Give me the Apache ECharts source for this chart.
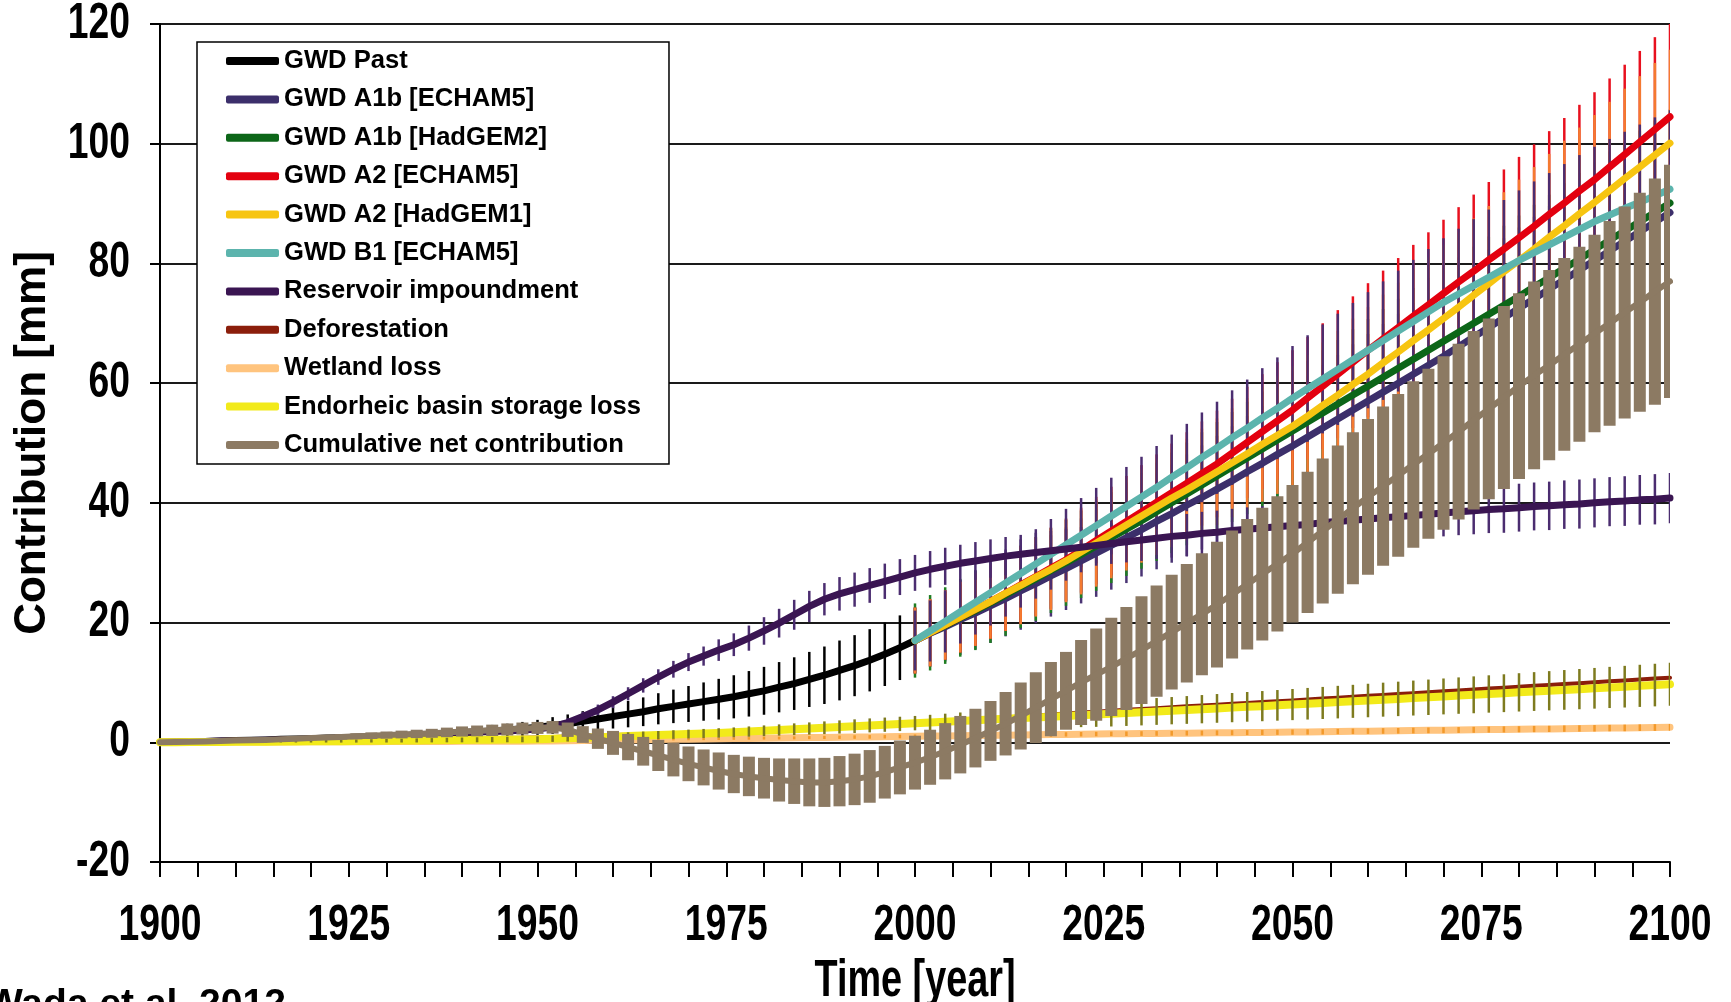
<!DOCTYPE html>
<html><head><meta charset="utf-8">
<script src="https://cdn.jsdelivr.net/npm/echarts@6/dist/echarts.min.js"></script>
<style>html,body{margin:0;padding:0;background:#fff;}#c{width:1731px;height:1002px;}</style>
</head><body><div id="c"></div>
<script>
// ---------- categories (years, 2-year steps) and tick labels ----------
const yearsAll = []; for (let y = 1900; y <= 2100; y += 2) yearsAll.push(y);
const yearsPast = yearsAll.filter(y => y <= 2000);
const yearsFuture = yearsAll.filter(y => y >= 2000);
const xTickLabels = [1900, 1925, 1950, 1975, 2000, 2025, 2050, 2075, 2100];
const yTickLabels = [-20, 0, 20, 40, 60, 80, 100, 120];

// ---------- series values (mm) ----------
const gwdPast = [0,0.05,0.1,0.15,0.2,0.3,0.35,0.4,0.5,0.55,0.6,0.7,0.75,0.85,0.9,1.0,1.1,1.2,1.3,1.45,1.6,1.75,1.9,2.05,2.25,2.5,2.8,3.1,3.5,3.9,4.3,4.7,5.1,5.6,6.0,6.4,6.8,7.2,7.6,8.1,8.6,9.2,9.8,10.5,11.2,12.0,12.8,13.7,14.7,15.8,17.0];
const gwdPastErr = [0,0.05,0.1,0.1,0.15,0.15,0.2,0.2,0.25,0.3,0.3,0.35,0.4,0.45,0.5,0.55,0.6,0.65,0.7,0.8,0.85,0.9,1.0,1.05,1.15,1.25,1.4,1.55,1.7,1.85,2.0,2.2,2.4,2.6,2.8,3.0,3.2,3.4,3.6,3.8,4.0,4.2,4.4,4.6,4.8,5.0,5.1,5.2,5.3,5.4,5.5];

const a1bEcham5 = [17.0,18.2,19.3,20.5,21.6,22.8,24.0,25.3,26.5,27.8,29.0,30.3,31.6,32.9,34.2,35.5,36.9,38.2,39.6,40.9,42.3,43.7,45.2,46.6,48.1,49.5,51.0,52.5,54.0,55.5,57.0,58.5,60.0,61.5,63.0,64.5,66.1,67.7,69.3,70.9,72.5,74.1,75.7,77.3,78.9,80.5,82.1,83.7,85.3,86.9,88.5];
const a1bEcham5Err = [5.5,5.6,5.8,5.9,6.1,6.2,6.3,6.5,6.6,6.8,6.9,7.1,7.3,7.4,7.6,7.8,8.0,8.2,8.5,8.7,8.9,9.1,9.3,9.6,9.8,10.0,10.2,10.5,10.7,11.0,11.2,11.4,11.6,11.9,12.1,12.3,12.5,12.8,13.0,13.3,13.5,13.7,13.9,14.2,14.4,14.6,14.8,15.0,15.2,15.4,15.6];

const a1bHadgem2 = [17.0,18.3,19.5,20.8,22.0,23.3,24.6,26.0,27.3,28.7,30.0,31.4,32.8,34.2,35.6,37.0,38.5,40.0,41.5,43.0,44.5,46.0,47.5,49.0,50.5,52.0,53.5,55.0,56.5,58.0,59.5,61.0,62.5,64.0,65.5,67.0,68.5,70.0,71.5,73.0,74.5,76.1,77.6,79.2,80.7,82.3,83.9,85.4,87.0,88.5,90.1];
const a1bHadgem2Err = [6.2,6.3,6.4,6.5,6.6,6.7,6.8,6.9,7.0,7.1,7.2,7.3,7.5,7.6,7.8,8.0,8.2,8.4,8.6,8.8,9.0,9.2,9.4,9.6,9.8,10.0,10.2,10.5,10.7,11.0,11.2,11.4,11.6,11.9,12.1,12.3,12.5,12.8,13.0,13.3,13.5,13.7,13.9,14.2,14.4,14.6,14.8,15.0,15.2,15.4,15.6];

const a2Echam5 = [17.0,18.3,19.6,20.9,22.2,23.5,24.9,26.3,27.7,29.1,30.5,32.1,33.7,35.3,36.9,38.5,40.1,41.7,43.3,44.9,46.5,48.3,50.1,51.9,53.7,55.5,57.5,59.5,61.5,63.5,65.5,67.4,69.3,71.2,73.1,75.0,76.9,78.7,80.6,82.4,84.3,86.2,88.2,90.1,92.1,94.0,96.1,98.2,100.3,102.4,104.5];
const a2Echam5Err = [5.5,5.6,5.8,5.9,6.1,6.2,6.3,6.5,6.6,6.8,6.9,7.1,7.3,7.4,7.6,7.8,8.0,8.2,8.5,8.7,8.9,9.1,9.3,9.6,9.8,10.0,10.2,10.5,10.7,11.0,11.2,11.4,11.6,11.9,12.1,12.3,12.5,12.8,13.0,13.3,13.5,13.7,13.9,14.2,14.4,14.6,14.8,15.0,15.2,15.4,15.6];

const a2Hadgem1 = [17.0,18.3,19.6,20.9,22.2,23.5,24.9,26.2,27.6,28.9,30.3,31.8,33.3,34.8,36.3,37.8,39.3,40.8,42.2,43.7,45.2,46.7,48.2,49.8,51.3,52.8,54.5,56.3,58.0,59.8,61.5,63.4,65.2,67.1,68.9,70.8,72.7,74.7,76.6,78.6,80.5,82.4,84.4,86.3,88.3,90.2,92.2,94.2,96.1,98.1,100.1];
const a2Hadgem1Err = [5.5,5.6,5.8,5.9,6.1,6.2,6.3,6.5,6.6,6.8,6.9,7.1,7.3,7.4,7.6,7.8,8.0,8.2,8.5,8.7,8.9,9.1,9.3,9.6,9.8,10.0,10.2,10.5,10.7,11.0,11.2,11.4,11.6,11.9,12.1,12.3,12.5,12.8,13.0,13.3,13.5,13.7,13.9,14.2,14.4,14.6,14.8,15.0,15.2,15.4,15.6];

const b1Echam5 = [17.0,18.6,20.2,21.8,23.4,25.0,26.6,28.2,29.8,31.4,33.0,34.6,36.2,37.8,39.4,41.0,42.6,44.3,45.9,47.6,49.2,50.9,52.5,54.2,55.8,57.5,59.1,60.7,62.3,63.9,65.5,67.1,68.7,70.3,71.9,73.5,74.9,76.3,77.7,79.1,80.5,81.8,83.1,84.4,85.7,87.0,88.1,89.2,90.2,91.3,92.4];
const b1Echam5Err = [5.0,5.1,5.2,5.3,5.4,5.5,5.6,5.7,5.8,5.9,6.0,6.2,6.3,6.4,6.6,6.7,6.9,7.1,7.3,7.5,7.7,7.9,8.1,8.3,8.5,8.7,8.9,9.1,9.3,9.5,9.7,9.9,10.1,10.3,10.5,10.7,10.9,11.1,11.3,11.5,11.7,11.9,12.0,12.2,12.4,12.5,12.7,12.8,13.0,13.1,13.2];

const reservoir = [0.0,0.05,0.1,0.15,0.2,0.25,0.3,0.35,0.4,0.45,0.5,0.6,0.7,0.8,0.9,1.0,1.1,1.2,1.3,1.45,1.6,1.7,1.8,1.9,2.05,
2.2,2.6,3.3,4.3,5.4,6.7,8.1,9.5,10.9,12.2,13.4,14.4,15.4,16.3,17.4,18.6,19.9,21.3,22.7,23.9,24.8,25.5,26.2,26.9,27.6,
28.3,28.9,29.4,29.9,30.3,30.7,31.1,31.4,31.7,32.0,32.3,32.6,32.9,33.2,33.5,33.8,34.1,34.4,34.6,34.9,35.1,35.4,35.6,35.8,36.0,
36.2,36.4,36.7,36.9,37.1,37.3,37.5,37.7,37.9,38.1,38.3,38.5,38.7,38.9,39.0,39.2,39.4,39.5,39.7,39.8,40.0,40.2,40.3,40.5,40.6,40.8];
const reservoirErr = [0,0,0.05,0.05,0.1,0.1,0.1,0.15,0.15,0.2,0.2,0.2,0.25,0.25,0.3,0.3,0.3,0.35,0.35,0.4,0.4,0.4,0.45,0.45,0.5,
0.5,0.6,0.7,0.8,0.9,1.0,1.1,1.2,1.3,1.4,1.5,1.6,1.8,1.9,2.1,2.3,2.4,2.5,2.6,2.7,2.8,2.85,2.9,2.95,3.0,
3.0,3.05,3.1,3.1,3.15,3.2,3.2,3.25,3.3,3.3,3.3,3.35,3.4,3.4,3.45,3.5,3.5,3.55,3.55,3.6,3.6,3.6,3.65,3.65,3.7,
3.7,3.7,3.75,3.75,3.8,3.8,3.8,3.85,3.85,3.9,3.9,3.9,3.95,3.95,4.0,4.0,4.0,4.05,4.05,4.1,4.1,4.1,4.15,4.15,4.2,4.2];

const deforestation = [0,0.02,0.05,0.07,0.1,0.12,0.15,0.17,0.2,0.22,0.25,0.27,0.29,0.32,0.36,0.4,0.44,0.48,0.52,0.56,0.6,0.64,0.68,0.72,0.76,
0.8,0.88,0.96,1.04,1.12,1.2,1.28,1.36,1.44,1.52,1.6,1.68,1.76,1.85,1.96,2.08,2.2,2.32,2.44,2.56,2.68,2.8,2.9,3.0,3.1,
3.2,3.36,3.52,3.68,3.84,4.0,4.16,4.32,4.48,4.64,4.8,4.96,5.12,5.27,5.42,5.56,5.7,5.85,6.0,6.14,6.28,6.42,6.57,6.71,6.86,
7.0,7.15,7.3,7.45,7.6,7.76,7.91,8.06,8.21,8.36,8.52,8.67,8.82,8.97,9.12,9.28,9.43,9.58,9.73,9.88,10.04,10.19,10.34,10.49,10.64,10.8];

const wetlandLoss = [0,0.01,0.02,0.02,0.03,0.04,0.05,0.06,0.06,0.07,0.08,0.09,0.1,0.1,0.11,0.12,0.13,0.14,0.14,0.15,0.16,0.17,0.18,0.18,0.19,
0.2,0.23,0.26,0.3,0.33,0.36,0.39,0.42,0.46,0.49,0.52,0.55,0.58,0.62,0.65,0.68,0.71,0.74,0.78,0.81,0.84,0.87,0.9,0.94,0.97,
1.0,1.03,1.06,1.1,1.13,1.16,1.19,1.22,1.26,1.29,1.32,1.35,1.38,1.41,1.43,1.46,1.48,1.5,1.53,1.55,1.58,1.6,1.62,1.65,1.67,
1.7,1.73,1.76,1.8,1.83,1.86,1.89,1.92,1.96,1.99,2.02,2.05,2.08,2.12,2.15,2.18,2.21,2.24,2.28,2.31,2.34,2.37,2.4,2.44,2.47,2.5];
const wetlandLossErr = [0,0,0,0,0,0.01,0.01,0.01,0.01,0.02,0.02,0.02,0.03,0.03,0.03,0.04,0.04,0.04,0.05,0.05,0.05,0.06,0.06,0.07,0.07,
0.08,0.09,0.1,0.11,0.12,0.13,0.14,0.15,0.16,0.17,0.18,0.19,0.2,0.21,0.22,0.23,0.24,0.25,0.26,0.27,0.28,0.29,0.3,0.3,0.31,
0.31,0.32,0.32,0.33,0.33,0.34,0.34,0.35,0.35,0.36,0.36,0.37,0.37,0.38,0.38,0.39,0.39,0.4,0.4,0.41,0.41,0.42,0.42,0.43,0.43,
0.44,0.44,0.45,0.45,0.46,0.46,0.47,0.47,0.48,0.48,0.49,0.49,0.5,0.5,0.51,0.51,0.52,0.52,0.53,0.53,0.54,0.54,0.55,0.55,0.56,0.56];

const endorheic = [0,0.02,0.03,0.05,0.06,0.08,0.1,0.11,0.13,0.14,0.16,0.18,0.19,0.21,0.24,0.26,0.28,0.31,0.34,0.37,0.39,0.42,0.44,0.46,0.48,
0.5,0.59,0.68,0.76,0.85,0.94,1.03,1.12,1.2,1.29,1.38,1.47,1.56,1.66,1.79,1.92,2.05,2.18,2.3,2.43,2.56,2.69,2.82,2.94,3.07,
3.2,3.32,3.44,3.56,3.68,3.8,3.92,4.04,4.16,4.28,4.4,4.52,4.64,4.76,4.89,5.02,5.15,5.28,5.4,5.53,5.66,5.79,5.92,6.04,6.17,
6.3,6.44,6.57,6.71,6.84,6.98,7.12,7.25,7.39,7.52,7.66,7.8,7.93,8.07,8.2,8.34,8.48,8.61,8.75,8.88,9.02,9.16,9.29,9.43,9.56,9.7];
const endorheicErr = [0,0.02,0.04,0.06,0.08,0.1,0.12,0.14,0.16,0.18,0.2,0.22,0.24,0.26,0.28,0.3,0.32,0.34,0.36,0.38,0.4,0.42,0.44,0.46,0.48,
0.5,0.52,0.55,0.57,0.6,0.62,0.64,0.67,0.69,0.72,0.74,0.76,0.79,0.82,0.86,0.9,0.94,0.98,1.02,1.06,1.1,1.14,1.17,1.19,1.2,
1.2,1.27,1.34,1.42,1.49,1.56,1.63,1.7,1.78,1.85,1.92,1.99,2.06,2.12,2.16,2.2,2.24,2.28,2.32,2.36,2.4,2.44,2.48,2.52,2.56,
2.6,2.64,2.68,2.72,2.76,2.8,2.84,2.88,2.92,2.96,3.0,3.04,3.08,3.12,3.16,3.2,3.24,3.28,3.32,3.36,3.4,3.44,3.48,3.52,3.56,3.6];

const netContribution = [0,0.05,0.1,0.15,0.2,0.3,0.35,0.4,0.5,0.6,0.7,0.8,0.9,1.0,1.1,1.2,1.3,1.4,1.5,1.65,1.8,1.9,2.0,2.15,2.3,
2.4,2.5,2.1,1.3,0.6,-0.1,-0.8,-1.5,-2.2,-2.9,-3.6,-4.2,-4.8,-5.3,-5.7,-6.0,-6.3,-6.5,-6.7,-6.7,-6.5,-6.2,-5.7,-5.0,-4.2,
-3.4,-2.5,-1.5,-0.4,0.7,1.9,3.1,4.4,5.8,7.2,8.6,10.0,11.3,12.6,14.0,15.4,16.9,18.4,19.9,21.4,23.0,24.7,26.4,28.1,29.8,
31.5,33.4,35.3,37.2,39.1,41.0,42.8,44.6,46.4,48.2,50.0,51.9,53.8,55.7,57.6,59.5,61.3,63.0,64.8,66.5,68.3,70.0,71.8,73.5,75.3,77.0];
const netContributionErr = [0,0.05,0.1,0.1,0.15,0.2,0.2,0.25,0.3,0.3,0.35,0.4,0.45,0.5,0.55,0.6,0.65,0.7,0.75,0.8,0.85,0.9,0.95,1.0,1.0,
1.0,1.05,1.2,1.4,1.7,2.0,2.2,2.4,2.6,2.8,2.9,3.0,3.1,3.2,3.3,3.4,3.6,3.8,4.0,4.1,4.2,4.3,4.4,4.4,4.5,
4.5,4.6,4.7,4.8,4.9,5.0,5.3,5.6,5.9,6.2,6.5,7.1,7.7,8.2,8.6,9.0,9.3,9.6,9.9,10.2,10.5,10.7,10.9,11.1,11.3,
11.5,11.8,12.1,12.4,12.7,13.0,13.3,13.6,13.9,14.2,14.5,14.7,14.9,15.1,15.3,15.5,15.7,15.9,16.1,16.3,16.5,17.1,17.7,18.3,18.9,19.5];

// ---------- helpers ----------
const SANS = "'Liberation Sans',Arial,Helvetica,sans-serif";
const TALL = "bold 37.3px 'Liberation Sans', Arial, sans-serif"; // drawn with a vertical stretch, like the narrow bold labels

function pairs(years, vals) { return vals.map((v, i) => [years[i], v]); }
function lineSeries(name, years, vals, color, width, z) {
  return { type: 'line', name, data: pairs(years, vals), showSymbol: false, symbol: 'none',
    lineStyle: { color, width, cap: 'round', join: 'round' }, itemStyle: { color },
    z, animation: false, silent: true, clip: true };
}
function errSeries(id, years, vals, errs, color, width, z) {
  const data = vals.map((v, i) => [years[i], v - (errs[i] || 0), v + (errs[i] || 0)]);
  return { type: 'custom', id, data, z, silent: true, animation: false, clip: true,
    encode: { x: 0, y: [1, 2] },
    renderItem(params, api) {
      const x = api.value(0);
      const p1 = api.coord([x, api.value(1)]);
      const p2 = api.coord([x, api.value(2)]);
      return { type: 'line', shape: { x1: p1[0], y1: p1[1], x2: p2[0], y2: p2[1] },
        style: { stroke: color, lineWidth: width, lineCap: 'butt' } };
    } };
}

const C = {
  past: '#000000', a1bE: '#3c2f6b', a1bH: '#0c6618', a2E: '#e3000f', a2H: '#f7c511',
  b1E: '#5cb4ad', res: '#3a1552', defo: '#8b1e0b', wet: '#ffc47e', endo: '#f2ea1a', net: '#8c7a63'
};
const names = ['GWD Past', 'GWD A1b [ECHAM5]', 'GWD A1b [HadGEM2]', 'GWD A2 [ECHAM5]', 'GWD A2 [HadGEM1]',
  'GWD B1 [ECHAM5]', 'Reservoir impoundment', 'Deforestation', 'Wetland loss',
  'Endorheic basin storage loss', 'Cumulative net contribution'];

const series = [
  errSeries('ePast', yearsPast, gwdPast, gwdPastErr, '#000000', 2.5, 1),
  errSeries('eA1bE', yearsFuture, a1bEcham5, a1bEcham5Err, '#4a3474', 2.5, 1),
  errSeries('eA1bH', yearsFuture, a1bHadgem2, a1bHadgem2Err, '#1f7d22', 2.5, 1),
  errSeries('eA2E', yearsFuture, a2Echam5, a2Echam5Err, '#e8101e', 2.5, 1),
  errSeries('eA2H', yearsFuture, a2Hadgem1, a2Hadgem1Err, '#f47a30', 2.5, 1),
  errSeries('eB1E', yearsFuture, b1Echam5, b1Echam5Err, '#4b2d70', 2.5, 1),
  errSeries('eRes', yearsAll, reservoir, reservoirErr, '#4b2d70', 2.5, 1),
  lineSeries(names[0], yearsPast, gwdPast, C.past, 7, 2),
  lineSeries(names[1], yearsFuture, a1bEcham5, C.a1bE, 7, 2),
  lineSeries(names[2], yearsFuture, a1bHadgem2, C.a1bH, 7, 2),
  lineSeries(names[3], yearsFuture, a2Echam5, C.a2E, 7, 2),
  lineSeries(names[4], yearsFuture, a2Hadgem1, C.a2H, 7, 2),
  lineSeries(names[5], yearsFuture, b1Echam5, C.b1E, 7, 2),
  lineSeries(names[6], yearsAll, reservoir, C.res, 7, 2),
  lineSeries(names[7], yearsAll, deforestation, C.defo, 4, 2),
  lineSeries(names[8], yearsAll, wetlandLoss, C.wet, 7, 2),
  lineSeries(names[9], yearsAll, endorheic, C.endo, 8, 2),
  errSeries('eWet', yearsAll, wetlandLoss, wetlandLossErr, '#f39a2b', 2.5, 3),
  errSeries('eEndo', yearsAll, endorheic, endorheicErr, '#7e7b1f', 2.5, 3),
  errSeries('eNet', yearsAll, netContribution, netContributionErr, C.net, 12, 4),
  lineSeries(names[10], yearsAll, netContribution, C.net, 6, 4)
];

const chart = echarts.init(document.getElementById('c'), null, { renderer: 'canvas' });
chart.setOption({
  animation: false,
  backgroundColor: '#ffffff',
  grid: { left: 160, right: 61, top: 24, bottom: 140, containLabel: false },
  xAxis: {
    type: 'value', min: 1900, max: 2100, interval: 5,
    axisLine: { onZero: false, lineStyle: { color: '#000', width: 2 } },
    axisTick: { show: true, length: 15, lineStyle: { color: '#000', width: 2 } },
    axisLabel: { show: false },
    splitLine: { show: false }
  },
  yAxis: {
    type: 'value', min: -20, max: 120, interval: 20,
    axisLine: { show: true, lineStyle: { color: '#000', width: 2 } },
    axisTick: { show: true, length: 10, lineStyle: { color: '#000', width: 2 } },
    axisLabel: { show: false },
    splitLine: { show: true, lineStyle: { color: '#1a1a1a', width: 2 } },
    name: 'Contribution [mm]', nameLocation: 'middle', nameGap: 105,
    nameTextStyle: { fontFamily: SANS, fontWeight: 'bold', fontSize: 44, color: '#000' }
  },
  legend: {
    show: true, orient: 'vertical', left: 197, top: 42, data: names, icon: 'roundRect',
    itemWidth: 53, itemHeight: 8, itemGap: 12.4, padding: [6, 28, 6, 29],
    borderColor: '#000', borderWidth: 1.5, backgroundColor: '#fff', selectedMode: false, z: 10,
    textStyle: { fontFamily: SANS, fontWeight: 'bold', fontSize: 25.6, color: '#000', lineHeight: 26 }
  },
  series
});

// Tick labels and x-axis title: placed through the chart's own axis scales,
// drawn with a vertical stretch to imitate the tall narrow bold lettering.
const g = [];
const STRETCH = 1.35;
xTickLabels.forEach(v => {
  const p = chart.convertToPixel({ gridIndex: 0 }, [v, -20]);
  g.push({ type: 'text', x: p[0], y: p[1] + 64, scaleY: STRETCH, z: 10, silent: true,
    style: { text: String(v), font: TALL, fill: '#000', align: 'center', verticalAlign: 'middle' } });
});
yTickLabels.forEach(v => {
  const p = chart.convertToPixel({ gridIndex: 0 }, [1900, v]);
  g.push({ type: 'text', x: p[0] - 30, y: p[1], scaleY: STRETCH, z: 10, silent: true,
    style: { text: String(v), font: TALL, fill: '#000', align: 'right', verticalAlign: 'middle' } });
});
const mid = chart.convertToPixel({ gridIndex: 0 }, [2000, -20]);
g.push({ type: 'text', x: mid[0], y: mid[1] + 120, scaleY: STRETCH, z: 10, silent: true,
  style: { text: 'Time [year]', font: "bold 37.8px 'Liberation Sans', Arial, sans-serif", fill: '#000', align: 'center', verticalAlign: 'middle' } });
g.push({ type: 'text', x: -14, y: 986, z: 10, silent: true,
  style: { text: 'Wada et al. 2012', font: "bold 39px 'Liberation Sans', Arial, sans-serif", fill: '#000', verticalAlign: 'top' } });
chart.setOption({ graphic: g });
</script></body></html>
